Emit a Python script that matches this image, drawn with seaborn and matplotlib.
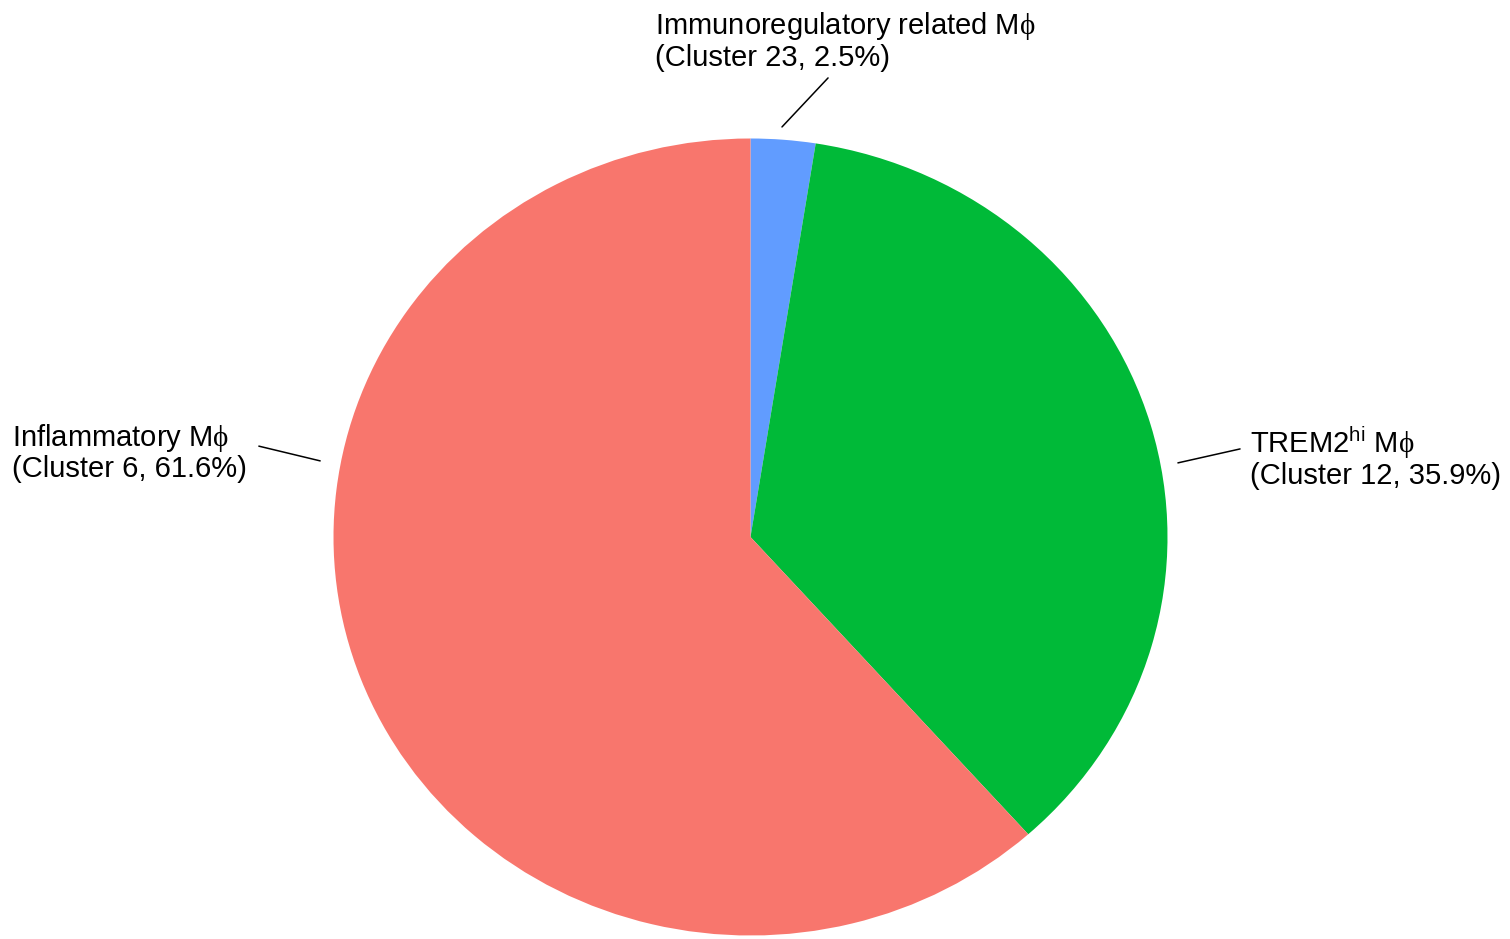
import matplotlib
matplotlib.use("Agg")
import matplotlib.pyplot as plt
import seaborn as sns

# Macrophage subset shares (%), drawn clockwise from 12 o'clock
subsets = ["Immunoregulatory related M$\\mathsf{\\phi}$",
           "TREM2$^{\\mathrm{hi}}$ M$\\mathsf{\\phi}$",
           "Inflammatory M$\\mathsf{\\phi}$"]
clusters = ["Cluster 23", "Cluster 12", "Cluster 6"]
shares = [2.5, 35.9, 61.6]
colors = ["#619CFF", "#00BA38", "#F8766D"]

# label layout: (leader start, leader end, text anchor) in data units
label_layout = [
    ((0.0755, 1.029), (0.186, 1.152), (-0.229, 1.245)),
    ((1.025, 0.186), (1.174, 0.221), (1.198, 0.200)),
    ((-1.032, 0.191), (-1.179, 0.228), (-1.771, 0.212)),
]

sns.set_theme(style="white")
plt.rcParams["font.family"] = ["Liberation Sans", "DejaVu Sans"]
plt.rcParams["mathtext.fontset"] = "custom"
plt.rcParams["mathtext.rm"] = "Liberation Sans"
plt.rcParams["mathtext.sf"] = "Liberation Serif"

fig = plt.figure(figsize=(15.1, 9.39), dpi=100)
ax = fig.add_axes([0, 0, 1, 1])
palette = sns.color_palette(colors)

ax.pie(shares, colors=palette, startangle=90, counterclock=False,
       wedgeprops=dict(linewidth=0), radius=1.0)
ax.set_aspect("auto")
ax.set_xlim(-750.5 / 417, (1510 - 750.5) / 417)
ax.set_ylim(-(939 - 537) / 398.5, 537 / 398.5)
ax.axis("off")

for name, cl, val, (p0, p1, pt) in zip(subsets, clusters, shares, label_layout):
    ax.plot([p0[0], p1[0]], [p0[1], p1[1]], color="black", linewidth=1.1)
    ax.text(pt[0], pt[1], f"{name}\n({cl}, {val}%)", ha="left", va="center",
            fontsize=21, color="black", linespacing=1.08)

fig.savefig("out.png", dpi=100, facecolor="white")
